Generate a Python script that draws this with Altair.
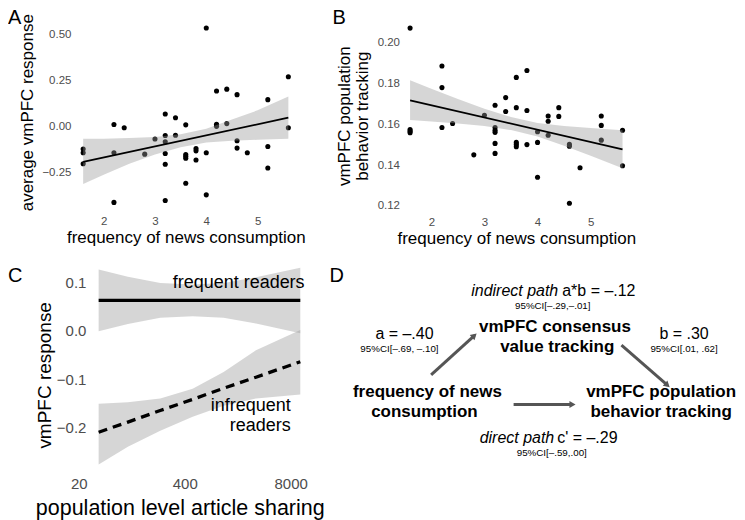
import altair as alt
import pandas as pd

FONT = "Liberation Sans"
GREY_LABEL = "#4d4d4d"

# ---------------- Panel A: frequency of news consumption vs average vmPFC response
a_freq = [1.6, 1.6, 1.6, 2.2, 2.2, 2.2, 2.4, 2.8, 3.0,
          3.2, 3.2, 3.2, 3.2, 3.2, 3.2, 3.4, 3.4,
          3.6, 3.6, 3.6, 3.6, 3.6, 3.8, 3.8, 3.8,
          4.0, 4.0, 4.0, 4.2, 4.2, 4.2, 4.4, 4.4,
          4.6, 4.6, 4.6, 4.8, 5.2, 5.2, 5.2, 5.6, 5.6]
a_resp = [-0.12, -0.14, -0.20, 0.013, -0.14, -0.41, -0.005, -0.148, -0.066,
          0.07, -0.047, -0.081, -0.144, -0.203, -0.40, 0.05, -0.045,
          0.011, -0.15, -0.16, -0.17, -0.306, -0.117, -0.13, -0.18,
          0.537, -0.14, -0.369, 0.195, 0.014, 0.003, 0.205, 0.018,
          0.175, -0.075, -0.115, -0.14, 0.148, -0.106, -0.223, 0.272, -0.005]
a_fit_x = [1.6, 5.6]
a_fit_y = [-0.19, 0.05]
a_band_x = [1.6, 2.0, 2.5, 3.0, 3.5, 4.0, 4.5, 5.0, 5.6]
a_band_lo = [-0.31, -0.26, -0.20, -0.15, -0.11, -0.085, -0.075, -0.07, -0.065]
a_band_hi = [-0.065, -0.065, -0.06, -0.055, -0.04, -0.01, 0.04, 0.09, 0.165]

# ---------------- Panel B: frequency of news consumption vs population behavior tracking
b_freq = [1.6, 1.6, 1.6, 1.6, 2.2, 2.2, 2.2, 2.4, 2.8, 3.0,
          3.2, 3.2, 3.2, 3.2, 3.2, 3.2, 3.4, 3.4,
          3.6, 3.6, 3.6, 3.6, 3.6, 3.8, 3.8, 3.8,
          4.0, 4.0, 4.0, 4.2, 4.2, 4.2, 4.4, 4.4,
          4.6, 4.6, 4.6, 4.8, 5.2, 5.2, 5.2, 5.6, 5.6]
b_track = [0.207, 0.1574, 0.1566, 0.1558, 0.1885, 0.1779, 0.1584, 0.1603, 0.145, 0.1644,
           0.1693, 0.1584, 0.157, 0.156, 0.1506, 0.1457, 0.173, 0.1662,
           0.1829, 0.1681, 0.1511, 0.1501, 0.149, 0.1863, 0.1667, 0.15,
           0.1563, 0.1511, 0.134, 0.164, 0.1614, 0.1546, 0.1681, 0.1638,
           0.1501, 0.1492, 0.1213, 0.1387, 0.164, 0.1594, 0.1522, 0.157, 0.1397]
b_fit_x = [1.6, 5.6]
b_fit_y = [0.1717, 0.1477]
b_band_x = [1.6, 2.0, 2.5, 3.0, 3.5, 4.0, 4.5, 5.0, 5.6]
b_band_lo = [0.162, 0.1613, 0.1603, 0.1591, 0.1571, 0.154, 0.1495, 0.1445, 0.1384]
b_band_hi = [0.1815, 0.1773, 0.1723, 0.1675, 0.1635, 0.1606, 0.1591, 0.1581, 0.157]

# ---------------- Panel C: population level article sharing vs vmPFC response
c_share = [35, 80, 200, 500, 1200, 3000, 10500]
c_freq_fit = [0.063, 0.063, 0.063, 0.063, 0.063, 0.063, 0.063]
c_freq_lo = [-0.001, 0.014, 0.027, 0.030, 0.027, 0.015, -0.005]
c_freq_hi = [0.127, 0.112, 0.099, 0.096, 0.099, 0.111, 0.131]
c_infreq_fit = [-0.21, -0.189, -0.165, -0.142, -0.119, -0.096, -0.064]
c_infreq_lo = [-0.277, -0.24, -0.207, -0.178, -0.155, -0.14, -0.132]
c_infreq_hi = [-0.151, -0.148, -0.14, -0.12, -0.085, -0.04, 0.002]
c_note_text = ["frequent readers", "infrequent", "readers"]
c_note_x = [11860, 8000, 8000]
c_note_y = [0.0987, -0.155, -0.198]

# ---------------- Panel D: mediation diagram
d_text = ["indirect path", "a*b = –.12", "95%CI[–.29,–.01]",
          "vmPFC consensus", "value tracking",
          "a = –.40", "95%CI[–.69,  –.10]",
          "b = .30", "95%CI[.01,  .62]",
          "frequency  of news", "consumption",
          "vmPFC population", "behavior tracking",
          "direct path", "c' = –.29", "95%CI[–.59,.00]"]
d_style = ["italic", "left", "small",
           "bold", "bold",
           "center", "small",
           "center", "small",
           "bold", "bold",
           "bold", "bold",
           "italic", "left", "small"]
d_x = [184, 188, 178.5, 180.7, 183, 30, 25, 310, 310, 53, 50, 287, 287, 180, 183, 177.5]
d_y = [33.7, 33.7, 48.7, 69.7, 89.7, 77, 92, 77, 92, 134.7, 155.7, 134.7, 155.7, 181.3, 181.3, 196.3]
arr_x1 = [56.7, 247.3, 139.3]
arr_y1 = [118, 88.3, 147.7]
arr_x2 = [100, 293.3, 198.3]
arr_y2 = [78.7, 128.3, 147.7]
arr_angle = [47.8, 131, 90]


def letter(t, x, y):
    return alt.Chart(pd.DataFrame({"t": [t]})).mark_text(
        align="left", baseline="top", fontSize=20, color="black"
    ).encode(text="t:N", x=alt.value(x), y=alt.value(y))


def scatter_panel(px, py, fx, fy, bx, blo, bhi, xscale, yscale, xaxis, yaxis, let, w, h):
    pts = pd.DataFrame({"x": px, "y": py})
    fit = pd.DataFrame({"x": fx, "y": fy})
    band = pd.DataFrame({"x": bx, "lo": blo, "hi": bhi})
    X = alt.X("x:Q", scale=xscale, axis=xaxis)
    p = alt.Chart(pts).mark_circle(size=26, color="black", opacity=1).encode(
        x=X, y=alt.Y("y:Q", scale=yscale, axis=yaxis))
    b = alt.Chart(band).mark_area(color="#999999", opacity=0.4).encode(
        x=X, y=alt.Y("lo:Q", scale=yscale, axis=yaxis), y2="hi:Q")
    l = alt.Chart(fit).mark_line(color="black", strokeWidth=1.8).encode(
        x=X, y=alt.Y("y:Q", scale=yscale, axis=yaxis))
    return alt.layer(p, b, l, let).properties(width=w, height=h)


common_axis = dict(domain=False, ticks=False, grid=False, labelColor=GREY_LABEL,
                   titleColor="black", titleFontWeight="normal")

xs = alt.Scale(domain=[1.4, 5.8], nice=False, zero=False)
A = scatter_panel(
    a_freq, a_resp, a_fit_x, a_fit_y, a_band_x, a_band_lo, a_band_hi,
    xs, alt.Scale(domain=[-0.457, 0.584], nice=False, zero=False),
    alt.Axis(values=[2, 3, 4, 5], format="d", labelFontSize=11.5, labelPadding=4,
             title="frequency of news consumption", titleFontSize=17, titlePadding=3, **common_axis),
    alt.Axis(values=[-0.25, 0, 0.25, 0.5], format=".2f", labelFontSize=11.5, labelPadding=2,
             title="average vmPFC response", titleFontSize=17, titlePadding=5, titleY=93,
             **common_axis),
    letter("A", -65, -11), 226, 192)

B = scatter_panel(
    b_freq, b_track, b_fit_x, b_fit_y, b_band_x, b_band_lo, b_band_hi,
    xs, alt.Scale(domain=[0.117, 0.2113], nice=False, zero=False),
    alt.Axis(values=[2, 3, 4, 5], format="d", labelFontSize=11.5, labelPadding=4,
             title="frequency of news consumption", titleFontSize=17, titlePadding=3, **common_axis),
    alt.Axis(values=[0.12, 0.14, 0.16, 0.18, 0.20], format=".2f", labelFontSize=11.5, labelPadding=0,
             title=["vmPFC population", "behavior tracking"], titleFontSize=17, titleLineHeight=18,
             titlePadding=6, **common_axis),
    letter("B", -67, -11), 234, 193)

# ---- Panel C
cx_scale = alt.Scale(type="log", domain=[16.9, 14050], nice=False)
cy_scale = alt.Scale(domain=[-0.296, 0.153], nice=False, zero=False)
cx_axis = alt.Axis(values=[20, 400, 8000], format="d", labelFontSize=15, labelPadding=3,
                   title="population level article sharing", titleFontSize=21.5, titlePadding=6,
                   titleX=107, **common_axis)
cy_axis = alt.Axis(values=[-0.2, -0.1, 0.0, 0.1], format=".1f", labelFontSize=15, labelPadding=2,
                   offset=-15, title="vmPFC response", titleFontSize=19, titlePadding=2,
                   titleY=118, **common_axis)
CX = alt.X("x:Q", scale=cx_scale, axis=cx_axis)
freq = pd.DataFrame({"x": c_share, "fit": c_freq_fit, "lo": c_freq_lo, "hi": c_freq_hi})
infreq = pd.DataFrame({"x": c_share, "fit": c_infreq_fit, "lo": c_infreq_lo, "hi": c_infreq_hi})
notes = pd.DataFrame({"t": c_note_text, "x": c_note_x, "y": c_note_y})


def band_c(df):
    return alt.Chart(df).mark_area(color="#999999", opacity=0.4).encode(
        x=CX, y=alt.Y("lo:Q", scale=cy_scale, axis=cy_axis), y2="hi:Q")


c_freq_line = alt.Chart(freq).mark_line(color="black", strokeWidth=3.3).encode(
    x=CX, y=alt.Y("fit:Q", scale=cy_scale, axis=cy_axis))
c_infreq_line = alt.Chart(infreq).mark_line(color="black", strokeWidth=3.3, strokeDash=[9, 6]).encode(
    x=CX, y=alt.Y("fit:Q", scale=cy_scale, axis=cy_axis))
c_notes = alt.Chart(notes).mark_text(align="right", baseline="middle", fontSize=18, color="black").encode(
    x=CX, y=alt.Y("y:Q", scale=cy_scale, axis=cy_axis), text="t:N")
C = alt.layer(band_c(freq), band_c(infreq), c_freq_line, c_infreq_line, c_notes,
              letter("C", -65, 9)).properties(width=238, height=217)

# ---- Panel D (diagram frame starts 25px right of its nominal origin)
dx_scale = alt.Scale(domain=[25, 362], nice=False, zero=False)
dy_scale = alt.Scale(domain=[0, 217], nice=False, zero=False, reverse=True)
dtab = pd.DataFrame({"t": d_text, "s": d_style, "x": d_x, "y": d_y})
arrows = pd.DataFrame({"x": arr_x1, "y": arr_y1, "x2": arr_x2, "y2": arr_y2, "a": arr_angle})
DX = alt.X("x:Q", scale=dx_scale, axis=None)
DY = alt.Y("y:Q", scale=dy_scale, axis=None)


def dtext(style, **kw):
    return alt.Chart(dtab).transform_filter(alt.datum.s == style).mark_text(
        baseline="middle", color="black", **kw).encode(x=DX, y=DY, text="t:N")


d_layers = [
    alt.Chart(arrows).mark_rule(color="#555555", strokeWidth=3).encode(x=DX, y=DY, x2="x2:Q", y2="y2:Q"),
    alt.Chart(arrows).mark_point(shape="triangle-up", filled=True, size=50, color="#555555", opacity=1).encode(
        x=alt.X("x2:Q", scale=dx_scale, axis=None), y=alt.Y("y2:Q", scale=dy_scale, axis=None),
        angle=alt.Angle("a:Q", scale=None)),
    dtext("italic", align="right", fontSize=16, fontStyle="italic"),
    dtext("left", align="left", fontSize=16),
    dtext("center", align="center", fontSize=16),
    dtext("small", align="center", fontSize=9.8),
    dtext("bold", align="center", fontSize=17, fontWeight="bold"),
    letter("D", -70, 9),
]
D = alt.layer(*d_layers).properties(width=337, height=217)

chart = alt.concat(
    A, B, C, D, columns=2,
    spacing=alt.RowColnumber(row=45, column=89),
    bounds="flush", align="each",
).properties(padding=0, background="white").configure(font=FONT).configure_view(stroke=None)

chart.save("out.html", embed_options={"renderer": "svg", "actions": False})
